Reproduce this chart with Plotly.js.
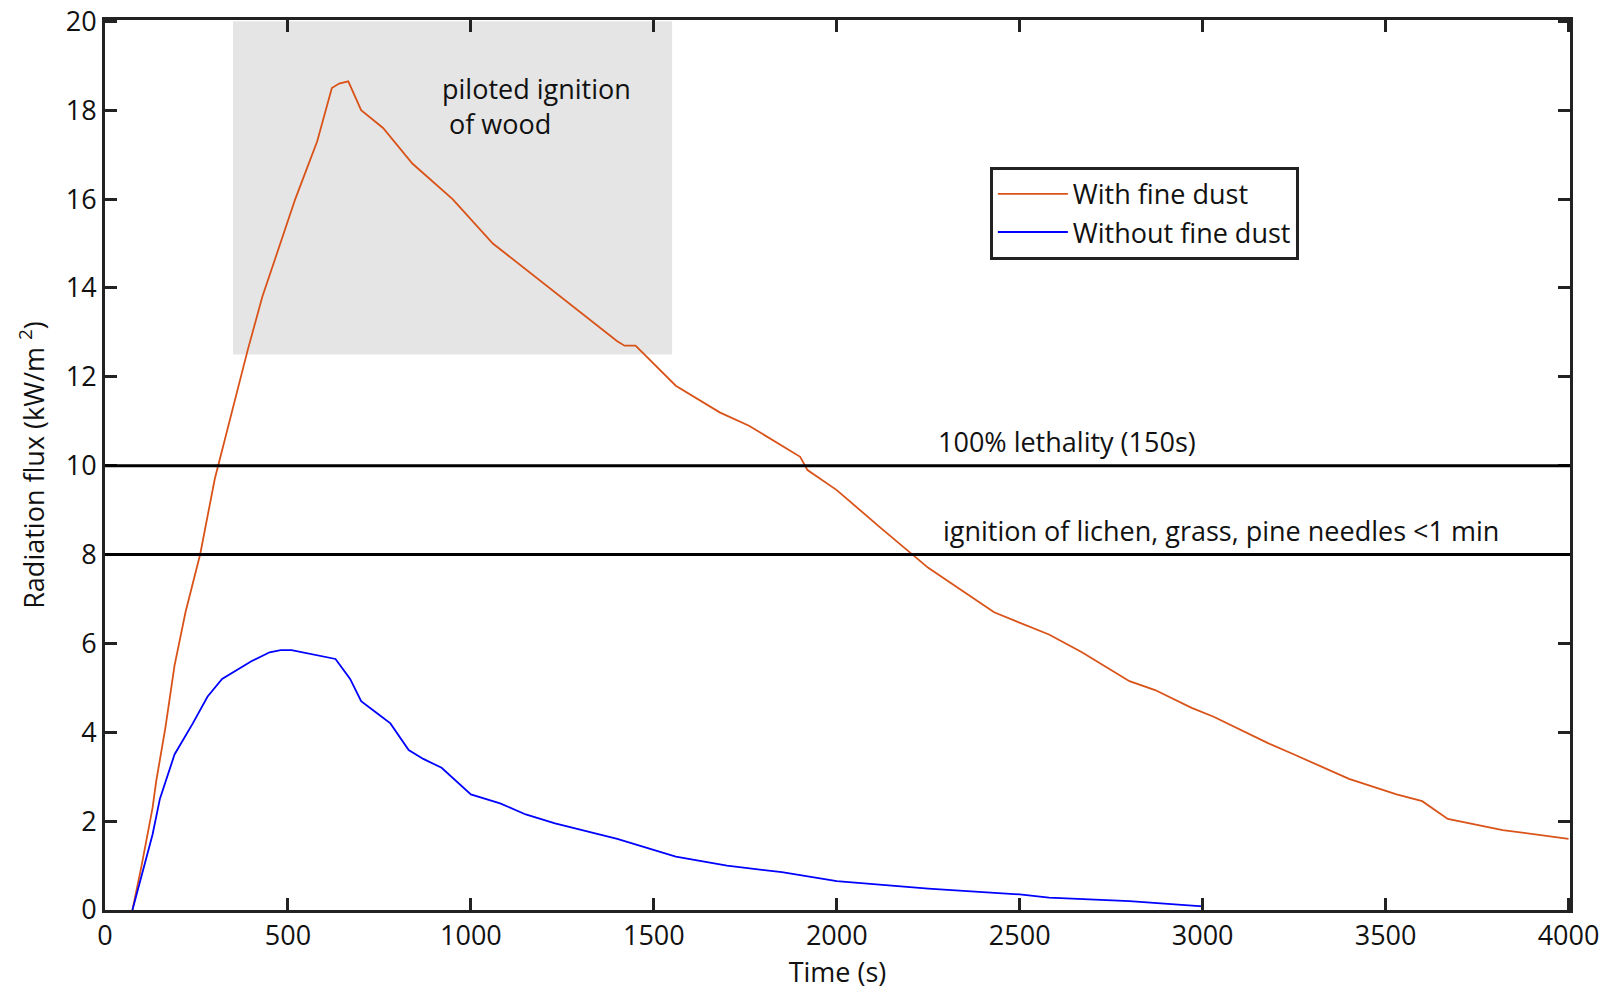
<!DOCTYPE html>
<html>
<head>
<meta charset="utf-8">
<script src="https://cdn.plot.ly/plotly-3.0.1.min.js"></script>
<style>body{margin:0;background:#fff}#plot{width:1600px;height:1000px}</style>
</head>
<body>
<div id="plot"></div>
<script>
// With fine dust
let dustX = [75,100,130,140,165,190,220,260,300,340,390,430,520,580,620,640,665,700,760,840,950,1060,1200,1400,1420,1450,1560,1680,1760,1900,1920,2000,2120,2250,2430,2580,2670,2800,2870,2970,3030,3180,3250,3400,3530,3600,3670,3820,4000];
let dustY = [0,1,2.3,2.9,4.1,5.5,6.7,8,9.7,11,12.6,13.8,16,17.3,18.5,18.6,18.65,18.0,17.6,16.8,16.0,15,14.1,12.8,12.7,12.7,11.8,11.2,10.9,10.2,9.9,9.45,8.6,7.7,6.7,6.2,5.8,5.15,4.95,4.55,4.35,3.75,3.5,2.95,2.6,2.45,2.05,1.8,1.6];
// Without fine dust
let cleanX = [75,100,130,150,190,240,280,320,400,450,480,510,630,670,700,740,780,830,870,920,1000,1080,1150,1230,1400,1560,1700,1850,2000,2150,2250,2500,2580,2800,3000];
let cleanY = [0,0.8,1.7,2.5,3.5,4.2,4.8,5.2,5.6,5.8,5.85,5.85,5.65,5.2,4.7,4.45,4.2,3.6,3.4,3.2,2.6,2.4,2.15,1.95,1.6,1.2,1.0,0.85,0.65,0.55,0.48,0.35,0.28,0.2,0.08];
let xTicks = [0,500,1000,1500,2000,2500,3000,3500,4000];
let yTicks = [0,2,4,6,8,10,12,14,16,18,20];
let thresholds = [10, 8];
let thresholdLabels = ['100% lethality (150s)', 'ignition of lichen, grass, pine needles <1 min'];
let thresholdLabelX = [2630, 3050];

let font = {family: 'Open Sans, Arial, sans-serif', size: 27, color: '#111'};

let traces = [
    {x: dustX, y: dustY, mode: 'lines', name: 'With fine dust', line: {color: '#d95319', width: 1.8}},
    {x: cleanX, y: cleanY, mode: 'lines', name: 'Without fine dust', line: {color: '#0000ff', width: 1.8}}
];

let shapes = [
    {type: 'rect', xref: 'x', yref: 'y', x0: 350, x1: 1550, y0: 12.5, y1: 20, fillcolor: '#e5e5e5', line: {width: 0}, layer: 'below'}
];
let annotations = [
    {x: 915, y: 18.1, xref: 'x', yref: 'y', xanchor: 'left', yanchor: 'middle', text: 'piloted ignition<br> of wood', showarrow: false, align: 'left', font: font}
];
thresholds.forEach(function (t, i) {
    shapes.push({type: 'line', xref: 'paper', yref: 'y', x0: 0, x1: 1, y0: t, y1: t, line: {color: '#000', width: 3}});
    annotations.push({x: thresholdLabelX[i], y: t + 0.55, xref: 'x', yref: 'y', text: thresholdLabels[i], showarrow: false, font: font});
});

let axis = {
    showgrid: false, zeroline: false, mirror: 'ticks', showline: true, linewidth: 3, linecolor: '#222',
    ticks: 'inside', ticklen: 12, tickwidth: 3, tickcolor: '#222', tickfont: font, tickmode: 'array',
    ticklabeloverflow: 'allow'
};

let layout = {
    width: 1600, height: 1000,
    margin: {l: 105, r: 30, t: 20, b: 90},
    plot_bgcolor: '#fff', paper_bgcolor: '#fff',
    xaxis: Object.assign({}, axis, {range: [0, 4004], tickvals: xTicks, title: {text: 'Time (s)', font: font, standoff: 6}}),
    yaxis: Object.assign({}, axis, {range: [0, 20.03], tickvals: yTicks, title: {text: 'Radiation flux (kW/m <sup>2</sup>)', font: font, standoff: 14}}),
    showlegend: true,
    legend: {x: 0.604, y: 0.835, xanchor: 'left', yanchor: 'top', bgcolor: '#fff', bordercolor: '#222', borderwidth: 3,
             font: font, itemwidth: 70, tracegroupgap: 0},
    shapes: shapes,
    annotations: annotations
};

Plotly.newPlot('plot', traces, layout, {displayModeBar: false});
</script>
</body>
</html>
